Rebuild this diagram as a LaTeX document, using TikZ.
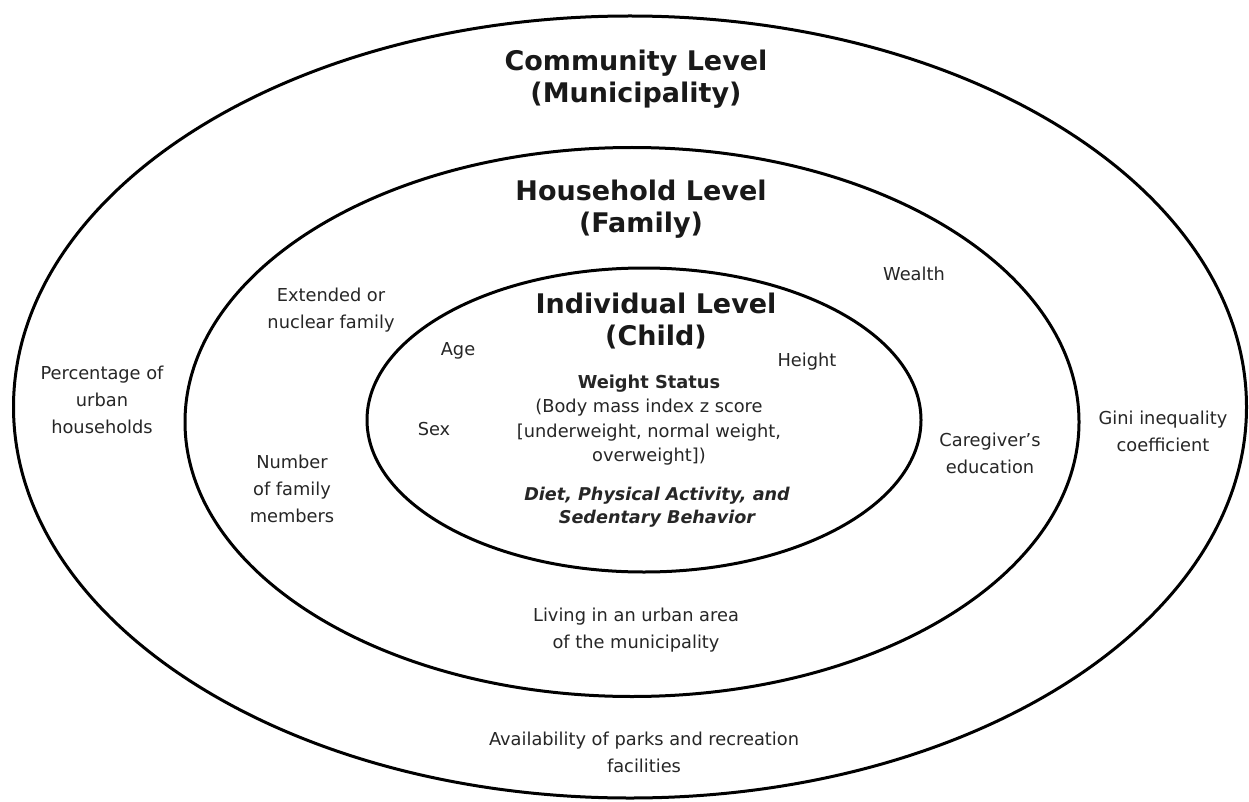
\documentclass[tikz,border=0pt]{standalone}
\usepackage{fontspec}
\setmainfont{DejaVu Sans}
\begin{document}
\begin{tikzpicture}[x=1pt,y=-1pt,
  ring/.style={line width=3pt,draw=black},
  title/.style={font=\fontsize{27}{32}\selectfont\bfseries,align=center,inner sep=0pt,text=black!90},
  lbl/.style={font=\fontsize{17.8}{27}\selectfont,align=center,inner sep=0pt,text=black!85},
  wlbl/.style={font=\fontsize{17.8}{24.5}\selectfont,align=center,inner sep=0pt,text=black!85},
  blbl/.style={font=\fontsize{17.6}{22.5}\selectfont\bfseries\itshape,align=center,inner sep=0pt,text=black!85}]
\useasboundingbox (0,0) rectangle (1249,802);
\fill[white] (0,0) rectangle (1249,802);
% rings
\draw[ring] (630,407) ellipse [x radius=616.5, y radius=391];
\draw[ring] (632,422) ellipse [x radius=447, y radius=274.5];
\draw[ring] (644,420) ellipse [x radius=277, y radius=152];
% titles
\node[title] (community) at (636,79) {Community Level\\(Municipality)};
\node[title] (household) at (641,209) {Household Level\\(Family)};
\node[title] (individual) at (656,321) {Individual Level\\(Child)};
% individual level
\node[lbl] (age) at (458,351) {Age};
\node[lbl] (height) at (807,362) {Height};
\node[lbl] (sex) at (434,429) {Sex};
\node[wlbl] (weight) at (649,420) {\textbf{Weight Status}\\(Body mass index z score\\{}[underweight, normal weight,\\overweight])};
\node[blbl] (diet) at (657,507) {Diet, Physical Activity, and\\Sedentary Behavior};
% household level
\node[lbl] (wealth) at (914,274) {Wealth};
\node[lbl] (family) at (331,310) {Extended or\\nuclear family};
\node[lbl] (caregiver) at (990,453) {Caregiver’s\\education};
\node[lbl] (members) at (292,489) {Number\\of family\\members};
\node[lbl] (urban) at (636,630) {Living in an urban area\\of the municipality};
% community level
\node[lbl] (percentage) at (102,400) {Percentage of\\urban\\households};
\node[lbl] (gini) at (1163,431) {Gini inequality\\coefficient};
\node[lbl] (parks) at (644,752) {Availability of parks and recreation\\facilities};
\end{tikzpicture}
\end{document}
